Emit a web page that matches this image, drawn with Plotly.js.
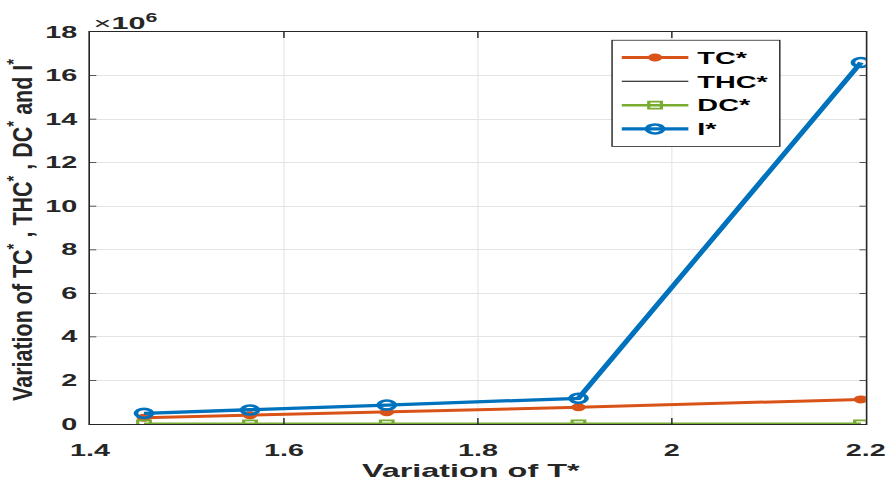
<!DOCTYPE html>
<html>
<head>
<meta charset="utf-8">
<script src="https://cdn.plot.ly/plotly-3.0.1.min.js"></script>
<style>
  html, body { margin: 0; padding: 0; background: #fff; overflow: hidden; }
  /* the figure is laid out narrow and widened horizontally, giving the wide lettering and oval markers */
  #chart { width: 495px; height: 478px; transform: scaleX(1.8); transform-origin: 0 0; }
</style>
</head>
<body>
<div id="chart"></div>
<script>
// Variation of the cost components with respect to T*
const tStar = [1.4557, 1.565, 1.706, 1.9037, 2.195];
const tcValues = [0.29e6, 0.40e6, 0.54e6, 0.77e6, 1.13e6];
const thcValues = [0.0, 0.0, 0.0, 0.0, 0.0];
const dcValues = [0.01e6, 0.01e6, 0.01e6, 0.01e6, 0.01e6];
const iValues = [0.49e6, 0.64e6, 0.87e6, 1.18e6, 16.6e6];

const seriesNames = ['TC*', 'THC*', 'DC*', 'I*'];
const yTickVals = [0, 2e6, 4e6, 6e6, 8e6, 10e6, 12e6, 14e6, 16e6, 18e6];
const yTickText = ['0', '2', '4', '6', '8', '10', '12', '14', '16', '18'];
const xTickVals = [1.4, 1.6, 1.8, 2.0, 2.2];
const xTickText = ['1.4', '1.6', '1.8', '2', '2.2'];

const FONT = 'Liberation Sans, Arial, sans-serif';
const INK = '#262626';

const traces = [
  {
    x: tStar, y: tcValues, name: seriesNames[0], mode: 'lines+markers',
    line: { color: '#D95319', width: 3 },
    marker: { symbol: 'circle', size: 8, color: '#D95319' }
  },
  {
    x: tStar, y: thcValues, name: seriesNames[1], mode: 'lines',
    line: { color: '#000000', width: 1 }
  },
  {
    x: tStar, y: dcValues, name: seriesNames[2], mode: 'lines+markers',
    line: { color: '#77AC30', width: 2.5 },
    marker: { symbol: 'square-open', size: 7, color: '#77AC30', line: { width: 1.8, color: '#77AC30' } }
  },
  {
    x: tStar, y: iValues, name: seriesNames[3], mode: 'lines+markers',
    line: { color: '#0072BD', width: 3.3 },
    marker: { symbol: 'circle-open', size: 9, color: '#0072BD', line: { width: 2.6, color: '#0072BD' } }
  }
];

const layout = {
  width: 495, height: 478,
  margin: { l: 50, r: 14, t: 32, b: 54 },
  paper_bgcolor: '#ffffff', plot_bgcolor: '#ffffff',
  font: { family: FONT, color: INK },
  showlegend: true,
  legend: {
    x: 0.672, y: 0.98, xanchor: 'left', yanchor: 'top',
    bgcolor: '#ffffff', bordercolor: INK, borderwidth: 0.8,
    font: { family: FONT, size: 16, color: '#000000', weight: 'bold' },
    itemwidth: 37, tracegroupgap: 0
  },
  xaxis: {
    range: [1.4, 2.2],
    tickvals: xTickVals, ticktext: xTickText,
    ticks: 'inside', ticklen: 6, tickwidth: 0.8, tickcolor: INK,
    showgrid: true, gridcolor: '#e4e4e4', gridwidth: 0.6,
    showline: true, linecolor: INK, linewidth: 0.9, mirror: 'ticks',
    zeroline: false, ticklabelstandoff: 12,
    tickfont: { family: FONT, size: 16, color: INK, weight: 'bold' }
  },
  yaxis: {
    range: [0, 18e6],
    tickvals: yTickVals, ticktext: yTickText,
    ticks: 'inside', ticklen: 3.5, tickwidth: 0.8, tickcolor: INK,
    showgrid: true, gridcolor: '#e4e4e4', gridwidth: 1,
    showline: true, linecolor: INK, linewidth: 0.9, mirror: 'ticks',
    zeroline: false, ticklabelstandoff: 3,
    tickfont: { family: FONT, size: 16, color: INK, weight: 'bold' }
  },
  annotations: [
    {
      xref: 'paper', yref: 'paper', x: 0.0, y: 1.0, xanchor: 'left', yanchor: 'bottom', yshift: -3,
      text: '<span style="font-weight:normal">×</span>10<sup>6</sup>', showarrow: false,
      font: { family: FONT, size: 17, color: INK, weight: 'bold' }
    },
    {
      xref: 'paper', yref: 'paper', x: -0.091, y: 0.496, xanchor: 'center', yanchor: 'middle',
      textangle: -90, showarrow: false,
      text: 'Variation of TC<sup>*</sup> , THC<sup>*</sup> , DC<sup>*</sup> and I<sup>*</sup>',
      font: { family: FONT, size: 15, color: INK, weight: 'bold' }
    },
    {
      xref: 'paper', yref: 'paper', x: 0.491, y: -0.121, xanchor: 'center', yanchor: 'middle',
      showarrow: false, text: 'Variation of T*',
      font: { family: FONT, size: 18, color: INK, weight: 'bold' }
    }
  ]
};

Plotly.newPlot('chart', traces, layout, { displayModeBar: false, staticPlot: true }).then(function (gd) {
  // lengthen the rotated axis label along its own direction
  const labels = gd.querySelectorAll('.annotation-text');
  const yLabel = labels[1];
  if (yLabel) {
    yLabel.setAttribute('textLength', 342);
    yLabel.setAttribute('lengthAdjust', 'spacingAndGlyphs');
  }
});
</script>
</body>
</html>
